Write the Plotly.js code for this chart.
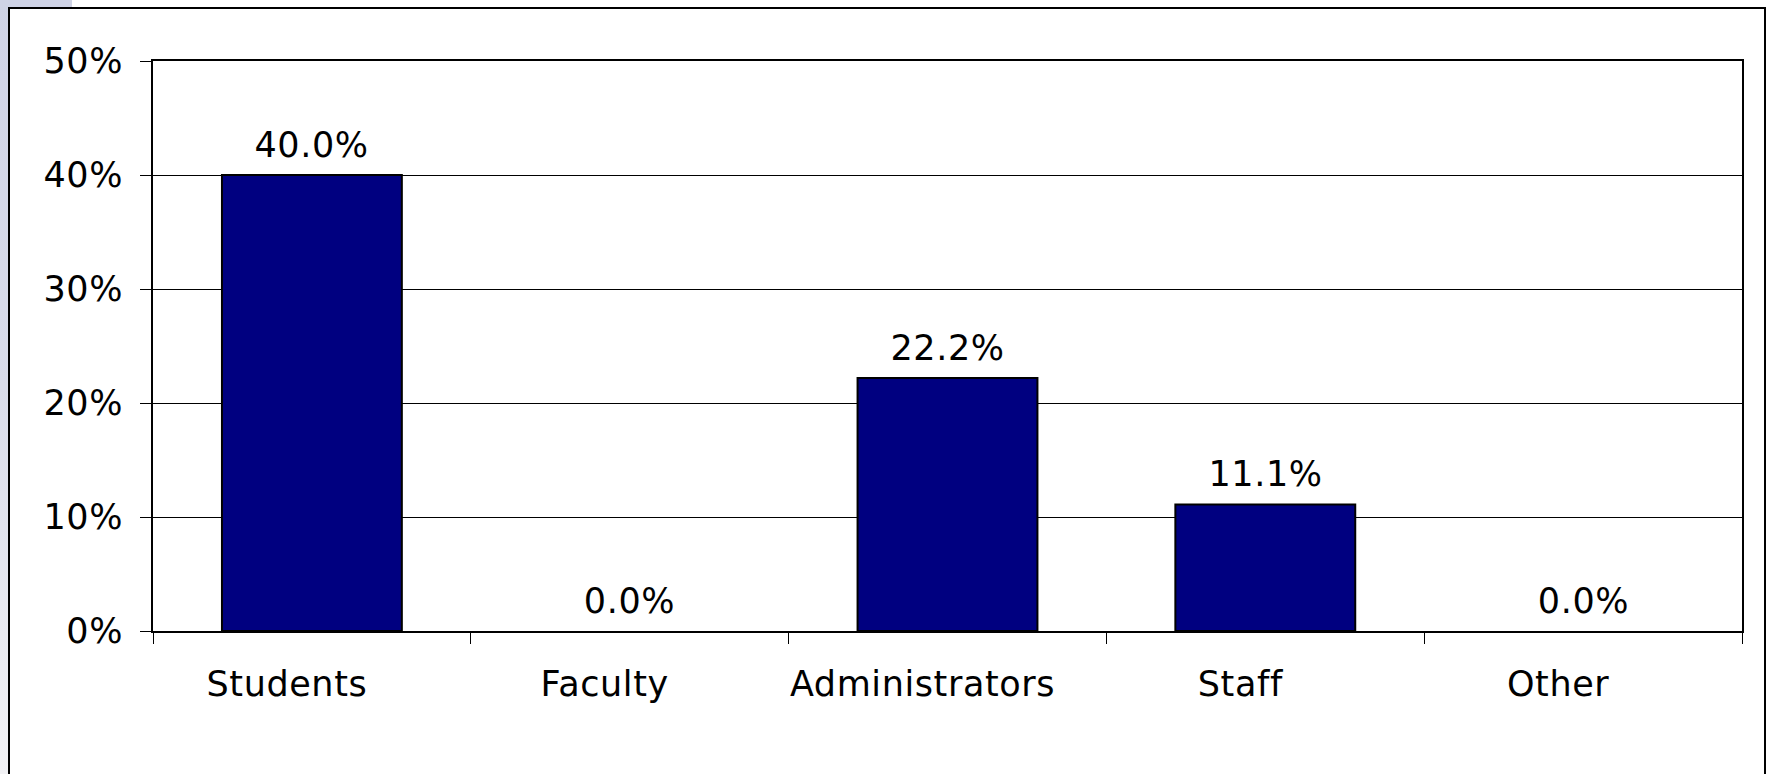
<!DOCTYPE html>
<html>
<head>
<meta charset="utf-8">
<script src="https://cdn.plot.ly/plotly-3.0.1.min.js"></script>
<style>
  html, body { margin: 0; padding: 0; background: #ffffff; width: 1771px; height: 774px; overflow: hidden; }
  #lavTop { position: absolute; left: 0; top: 0; width: 72px; height: 8px; background: #cfd3e6; }
  #lavLeft { position: absolute; left: 0; top: 0; width: 8px; height: 774px;
             background: linear-gradient(to bottom, #cfd3e6 0%, #d9dcea 50%, #f2f2f5 100%); }
  #frame { position: absolute; left: 8px; top: 7px; width: 1758px; height: 800px;
           border: 2px solid #000; background: #fff; box-sizing: border-box; }
  #chart { position: absolute; left: 0; top: 0; width: 1771px; height: 774px; }
  #chart svg text { letter-spacing: 0.6px; }
</style>
</head>
<body>
<div id="lavTop"></div>
<div id="lavLeft"></div>
<div id="frame"></div>
<div id="chart"></div>
<script>
const categories = ["Students", "Faculty", "Administrators", "Staff", "Other"];
const shares = [0.400, 0.000, 0.222, 0.111, 0.000];
const shareLabels = ["40.0%", "0.0%", "22.2%", "11.1%", "0.0%"];
const yTickValues = [0, 0.1, 0.2, 0.3, 0.4, 0.5];
const yTickLabels = ["0%", "10%", "20%", "30%", "40%", "50%"];

const FONT = "DejaVu Sans, Verdana, sans-serif";
const FS = 35;

const trace = {
  type: "bar",
  x: categories,
  y: shares,
  marker: { color: "#000080", line: { color: "#000000", width: shares.map(v => v > 0 ? 2 : 0) } },
  hoverinfo: "skip"
};

const annotations = categories.map((c, i) => ({
  x: c, y: shares[i], xref: "x", yref: "y",
  text: shareLabels[i], showarrow: false,
  yanchor: "middle", yshift: 30,
  font: { family: FONT, size: FS, color: "#000" }
}));

const layout = {
  width: 1771, height: 774,
  margin: { l: 153, r: 29, t: 61, b: 143, pad: 0 },
  paper_bgcolor: "rgba(0,0,0,0)",
  plot_bgcolor: "#ffffff",
  showlegend: false,
  bargap: 0.434,
  font: { family: FONT, size: FS, color: "#000" },
  xaxis: {
    type: "category",
    showline: true, linecolor: "#000", linewidth: 2, mirror: true,
    ticks: "outside", tickson: "boundaries", ticklen: 11, tickwidth: 1, tickcolor: "#000",
    showgrid: false, zeroline: false,
    tickfont: { family: FONT, size: FS, color: "#000" },
    ticklabelstandoff: 21,
    ticklabelshift: -25
  },
  yaxis: {
    range: [0, 0.5],
    tickvals: yTickValues, ticktext: yTickLabels,
    showline: true, linecolor: "#000", linewidth: 2, mirror: true,
    ticks: "outside", ticklen: 11, tickwidth: 1, tickcolor: "#000",
    showgrid: true, gridcolor: "#000", gridwidth: 1,
    zeroline: false,
    tickfont: { family: FONT, size: FS, color: "#000" },
    ticklabelstandoff: 10
  },
  annotations: annotations
};

Plotly.newPlot("chart", [trace], layout, { staticPlot: true, displayModeBar: false });
</script>
</body>
</html>
